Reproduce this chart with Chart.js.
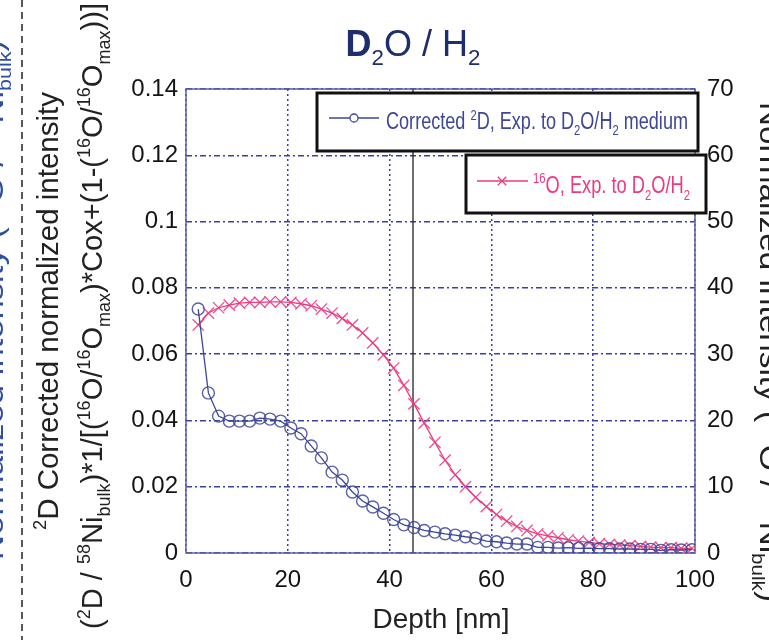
<!DOCTYPE html>
<html>
<head>
<meta charset="utf-8">
<script src="https://cdn.jsdelivr.net/npm/chart.js@4.4.1/dist/chart.umd.min.js"></script>
<style>
  body { margin: 0; background: #fff; }
  #wrap { width: 769px; height: 640px; }
</style>
</head>
<body>
<div id="wrap"><canvas id="myChart" width="769" height="640"></canvas></div>
<script>
// depth of each sputter step [nm]
var depth = [2.4, 4.4, 6.4, 8.5, 10.5, 12.5, 14.5, 16.5, 18.6, 20.6,
             22.6, 24.6, 26.6, 28.7, 30.7, 32.7, 34.7, 36.7, 38.8, 40.8,
             42.8, 44.8, 46.8, 48.9, 50.9, 52.9, 54.9, 56.9, 59.0, 61.0,
             63.0, 65.0, 67.0, 69.1, 71.1, 73.1, 75.1, 77.1, 79.2, 81.2,
             83.2, 85.2, 87.2, 89.3, 91.3, 93.3, 95.3, 97.3, 99.4];
// corrected 2D (left axis)
var deuterium = [0.0736, 0.0483, 0.0413, 0.0398, 0.0398, 0.0398, 0.0407, 0.0404, 0.0398, 0.0377,
                 0.0360, 0.0323, 0.0287, 0.0244, 0.0220, 0.0184, 0.0157, 0.0139, 0.0120, 0.0101,
                 0.0085, 0.0077, 0.0068, 0.0063, 0.0058, 0.0054, 0.0049, 0.0045, 0.0036, 0.0034,
                 0.0030, 0.0027, 0.0027, 0.0017, 0.0017, 0.0015, 0.0016, 0.0014, 0.0015, 0.0013,
                 0.0013, 0.0012, 0.0012, 0.0011, 0.0011, 0.0008, 0.0010, 0.0009, 0.0010];
// 16O (right axis)
var oxygen = [34.4, 36.2, 37.0, 37.4, 37.7, 37.8, 37.8, 37.9, 37.9, 37.8,
              37.6, 37.3, 36.8, 36.2, 35.4, 34.4, 33.2, 31.7, 29.9, 27.9,
              25.3, 22.5, 19.6, 16.7, 14.0, 11.8, 10.0, 8.4, 7.0, 5.8,
              4.8, 4.0, 3.4, 2.9, 2.6, 2.3, 2.0, 1.8, 1.6, 1.4,
              1.3, 1.2, 1.1, 1.0, 0.9, 0.8, 0.8, 0.7, 0.7];
var xTicks = [0, 20, 40, 60, 80, 100];
var yTicks = [0, 0.02, 0.04, 0.06, 0.08, 0.1, 0.12, 0.14];
var y1Ticks = [0, 10, 20, 30, 40, 50, 60, 70];
var markerDepth = 44.6;

var FONT = 'Liberation Sans, Arial, sans-serif';
var BLUE = '#3d4796';
var PINK = '#ec3a82';
var GRID = '#3840a8';

// rich text: array of {t, sup, sub, bold}
function segFont(s, size) {
  var sz = (s.sup || s.sub) ? size * 0.62 : size;
  return (s.bold ? 'bold ' : '') + sz + 'px ' + FONT;
}
function richWidth(ctx, segs, size) {
  var w = 0;
  segs.forEach(function(s) { ctx.font = segFont(s, size); w += ctx.measureText(s.t).width; });
  return w;
}
// draws with baseline at y, starting at x (or centred), squeezed to len if given
function drawRich(ctx, segs, x, y, size, color, opts) {
  opts = opts || {};
  var w = richWidth(ctx, segs, size);
  var sx = opts.len ? opts.len / w : 1;
  var start = opts.center ? x - w * sx / 2 : x;
  ctx.save();
  ctx.translate(start, y);
  ctx.scale(sx, 1);
  ctx.fillStyle = color;
  ctx.textBaseline = 'alphabetic';
  ctx.textAlign = 'left';
  var cx = 0;
  segs.forEach(function(s) {
    ctx.font = segFont(s, size);
    var dy = s.sup ? -size * 0.4 : (s.sub ? size * (opts.subDrop || 0.28) : 0);
    ctx.fillText(s.t, cx, dy);
    cx += ctx.measureText(s.t).width;
  });
  ctx.restore();
}

var titleSegs = [{t: 'D', bold: true}, {t: '2', sub: true}, {t: 'O / H'}, {t: '2', sub: true}];
var yTitle1 = [{t: '2', sup: true}, {t: 'D Corrected normalized intensity'}];
var yTitle2 = [{t: '('}, {t: '2', sup: true}, {t: 'D / '}, {t: '58', sup: true}, {t: 'Ni'}, {t: 'bulk', sub: true},
               {t: ')*1/[('}, {t: '16', sup: true}, {t: 'O/'}, {t: '16', sup: true}, {t: 'O'}, {t: 'max', sub: true},
               {t: ')*Cox+(1-('}, {t: '16', sup: true}, {t: 'O/'}, {t: '16', sup: true}, {t: 'O'}, {t: 'max', sub: true},
               {t: '))]'}];
var sideTitle = [{t: 'Normalized intensity ('}, {t: '16', sup: true}, {t: 'O / '}, {t: '58', sup: true},
                 {t: 'Ni'}, {t: 'bulk', sub: true}, {t: ')'}];
var legend1 = [{t: 'Corrected '}, {t: '2', sup: true}, {t: 'D, Exp. to D'}, {t: '2', sub: true},
               {t: 'O/H'}, {t: '2', sub: true}, {t: ' medium'}];
var legend2 = [{t: '16', sup: true}, {t: 'O, Exp. to D'}, {t: '2', sub: true}, {t: 'O/H'}, {t: '2', sub: true}];

var decor = {
  id: 'decor',
  beforeDatasetsDraw: function(chart) {
    var ctx = chart.ctx, a = chart.chartArea;
    var xm = chart.scales.x.getPixelForValue(markerDepth);
    ctx.save();
    ctx.strokeStyle = '#222';
    ctx.lineWidth = 1.3;
    ctx.beginPath(); ctx.moveTo(xm, a.top); ctx.lineTo(xm, a.bottom); ctx.stroke();
    // frame
    ctx.strokeStyle = '#5a5fb0';
    ctx.lineWidth = 1.5;
    ctx.strokeRect(a.left, a.top, a.right - a.left, a.bottom - a.top);
    ctx.restore();
  },
  afterDraw: function(chart) {
    var ctx = chart.ctx;
    var H = chart.height;
    ctx.save();
    // title
    drawRich(ctx, titleSegs, 413, 56, 36, '#1e2d6e', {center: true, subDrop: 0.25});
    // x title
    ctx.font = '28px ' + FONT;
    ctx.fillStyle = '#222';
    ctx.textAlign = 'center';
    ctx.fillText('Depth [nm]', 441, 628);
    // dashed separator on the left
    ctx.strokeStyle = '#222';
    ctx.lineWidth = 1.5;
    ctx.setLineDash([7, 5]);
    ctx.beginPath(); ctx.moveTo(22, 0); ctx.lineTo(22, H); ctx.stroke();
    ctx.setLineDash([]);
    // left axis titles (rotated)
    ctx.save();
    ctx.translate(58, 311); ctx.rotate(-Math.PI / 2);
    drawRich(ctx, yTitle1, 0, 0, 29, '#222', {center: true, len: 438});
    ctx.restore();
    ctx.save();
    ctx.translate(102, 316); ctx.rotate(-Math.PI / 2);
    drawRich(ctx, yTitle2, 0, 0, 29, '#222', {center: true, len: 626});
    ctx.restore();
    // clipped neighbour titles
    ctx.save();
    ctx.translate(3, 300); ctx.rotate(-Math.PI / 2);
    drawRich(ctx, sideTitle, 0, 0, 29, '#2f4f9f', {center: true, len: 520});
    ctx.restore();
    ctx.save();
    ctx.translate(760, 352); ctx.rotate(Math.PI / 2);
    drawRich(ctx, sideTitle, 0, 0, 29, '#222', {center: true, len: 500});
    ctx.restore();
    // legend boxes
    function box(x0, y0, x1, y1) {
      ctx.fillStyle = '#fff';
      ctx.fillRect(x0, y0, x1 - x0, y1 - y0);
      ctx.strokeStyle = '#111';
      ctx.lineWidth = 3;
      ctx.strokeRect(x0, y0, x1 - x0, y1 - y0);
    }
    box(317, 93, 698, 151);
    ctx.strokeStyle = BLUE; ctx.lineWidth = 1.3;
    ctx.beginPath(); ctx.moveTo(329, 118); ctx.lineTo(379, 118); ctx.stroke();
    Chart.helpers.drawPoint(ctx, {pointStyle: 'circle', radius: 4, borderWidth: 1.3}, 354, 118);
    drawRich(ctx, legend1, 386, 129, 23, BLUE, {len: 302});
    box(466, 155, 706, 213);
    ctx.strokeStyle = PINK; ctx.lineWidth = 1.3;
    ctx.beginPath(); ctx.moveTo(477, 181); ctx.lineTo(528, 181); ctx.stroke();
    Chart.helpers.drawPoint(ctx, {pointStyle: 'crossRot', radius: 6, borderWidth: 1.3}, 502, 181);
    drawRich(ctx, legend2, 533, 193, 24, PINK, {len: 157});
    ctx.restore();
  }
};

var ctx = document.getElementById('myChart').getContext('2d');
var myChart = new Chart(ctx, {
  type: 'line',
  data: {
    datasets: [
      {
        label: 'Corrected 2D, Exp. to D2O/H2 medium',
        data: depth.map(function(d, i) { return {x: d, y: deuterium[i]}; }),
        yAxisID: 'y',
        borderColor: BLUE,
        borderWidth: 1.3,
        pointStyle: 'circle',
        pointRadius: 6,
        pointBorderWidth: 1.4,
        pointBorderColor: 'rgba(61,71,150,0.85)',
        pointBackgroundColor: 'rgba(0,0,0,0)',
        tension: 0
      },
      {
        label: '16O, Exp. to D2O/H2',
        data: depth.map(function(d, i) { return {x: d, y: oxygen[i]}; }),
        yAxisID: 'y1',
        borderColor: PINK,
        borderWidth: 1.3,
        pointStyle: 'crossRot',
        pointRadius: 8,
        pointBorderWidth: 1.3,
        pointBorderColor: 'rgba(236,58,130,0.9)',
        pointBackgroundColor: PINK,
        tension: 0
      }
    ]
  },
  options: {
    responsive: false,
    animation: false,
    layout: {padding: {top: 89, left: 0, right: 0, bottom: 0}},
    plugins: {legend: {display: false}, tooltip: {enabled: false}},
    scales: {
      x: {
        type: 'linear', min: 0, max: 100,
        afterBuildTicks: function(s) { s.ticks = xTicks.map(function(v) { return {value: v}; }); },
        afterFit: function(s) { s.height = 87; },
        ticks: {color: '#141414', font: {size: 24, family: FONT}, padding: 13, maxRotation: 0},
        grid: {color: GRID, lineWidth: 1.5, drawTicks: false},
        border: {display: false, dash: [2, 3]}
      },
      y: {
        position: 'left', min: 0, max: 0.14,
        afterBuildTicks: function(s) { s.ticks = yTicks.map(function(v) { return {value: v}; }); },
        afterFit: function(s) { s.width = 186; },
        ticks: {color: '#141414', font: {size: 24, family: FONT}, padding: 8,
                callback: function(v) { return String(+v.toFixed(2)); }},
        grid: {color: GRID, lineWidth: 1.5, drawTicks: false},
        border: {display: false, dash: [6, 3, 2, 3]}
      },
      y1: {
        position: 'right', min: 0, max: 70,
        afterBuildTicks: function(s) { s.ticks = y1Ticks.map(function(v) { return {value: v}; }); },
        afterFit: function(s) { s.width = 74; },
        ticks: {color: '#141414', font: {size: 24, family: FONT}, padding: 12},
        grid: {drawOnChartArea: false, drawTicks: false},
        border: {display: false}
      }
    }
  },
  plugins: [decor]
});
</script>
</body>
</html>
